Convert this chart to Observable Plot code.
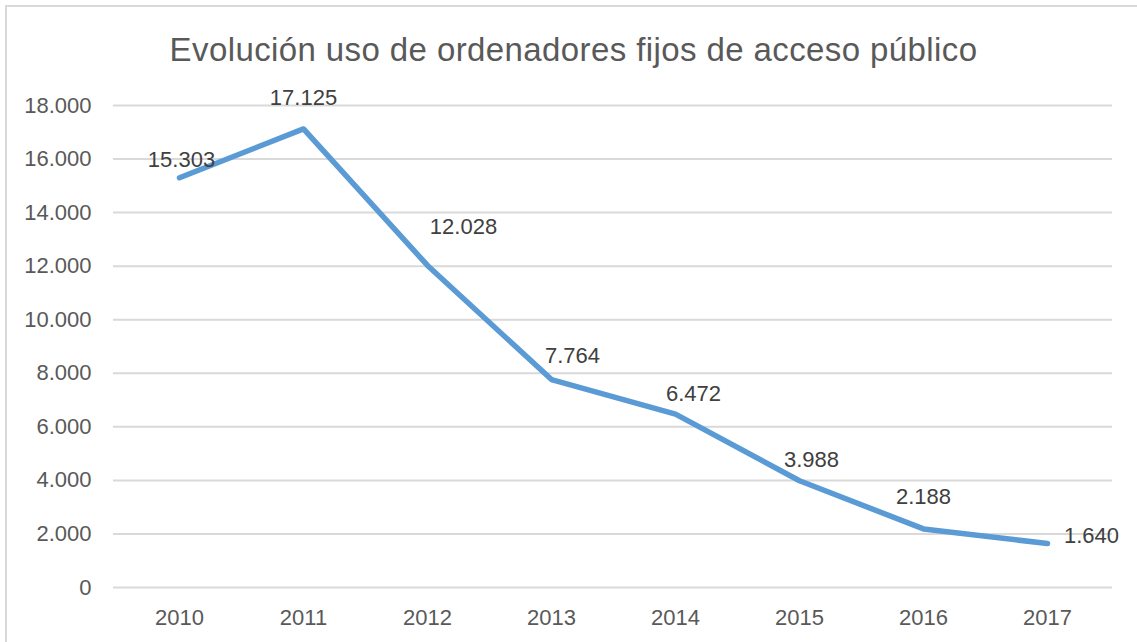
<!DOCTYPE html>
<html>
<head>
<meta charset="utf-8">
<script src="https://cdn.jsdelivr.net/npm/d3@7"></script>
<script src="https://cdn.jsdelivr.net/npm/@observablehq/plot@0.6"></script>
<style>
  html, body { margin: 0; padding: 0; background: #fff; }
  body { width: 1137px; height: 642px; position: relative; overflow: hidden; font-family: "Liberation Sans", Arial, sans-serif; }
  #frame { position: absolute; left: 5px; top: 5px; width: 1200px; height: 700px; border-left: 2px solid #D9D9D9; border-top: 2px solid #D9D9D9; }
  #title { position: absolute; left: 0; width: 1147px; top: 31px; text-align: center; font-size: 33px; line-height: 38px; color: #595959; letter-spacing: 0.4px; }
  #chart { position: absolute; left: 0; top: 80px; }
</style>
</head>
<body>
<div id="frame"></div>
<div id="title">Evolución uso de ordenadores fijos de acceso público</div>
<div id="chart"></div>
<script>
const years = ["2010", "2011", "2012", "2013", "2014", "2015", "2016", "2017"];
const values = [15303, 17125, 12028, 7764, 6472, 3988, 2188, 1640];
const yTicks = [0, 2000, 4000, 6000, 8000, 10000, 12000, 14000, 16000, 18000];

const locale = d3.formatLocale({decimal: ",", thousands: ".", grouping: [3], currency: ["", " €"]});
const fmt = locale.format(",d");

const data = years.map((year, i) => ({year, value: values[i]}));

// manual label placement (as in the original chart)
const labelOffsets = [[2, -18], [0, -31], [36, -38], [21, -24], [18, -20], [12, -21], [0, -32], [44, -8]];

const labelMarks = data.map((d, i) => Plot.text([d], {
  x: "year", y: "value", text: d => fmt(d.value),
  dx: labelOffsets[i][0], dy: labelOffsets[i][1],
  fill: "#404040", fontSize: 22
}));

const chart = Plot.plot({
  width: 1137,
  height: 562,
  marginLeft: 113,
  marginRight: 25,
  marginTop: 25,
  marginBottom: 55,
  style: {fontFamily: "'Liberation Sans', Arial, sans-serif", background: "transparent", overflow: "visible"},
  x: {type: "point", domain: years, padding: 0.5, label: null},
  y: {domain: [0, 18000], label: null},
  marks: [
    Plot.gridY(yTicks, {stroke: "#D9D9D9", strokeOpacity: 1, strokeWidth: 2}),
    Plot.axisY(yTicks, {tickSize: 0, tickPadding: 22, tickFormat: fmt, fontSize: 22, fill: "#595959", label: null}),
    Plot.axisX({tickSize: 0, tickPadding: 22, fontSize: 22, fill: "#595959", label: null}),
    Plot.line(data, {x: "year", y: "value", stroke: "#5B9BD5", strokeWidth: 5.5, strokeLinecap: "round", strokeLinejoin: "round"}),
    ...labelMarks
  ]
});
document.getElementById("chart").appendChild(chart);
</script>
</body>
</html>
